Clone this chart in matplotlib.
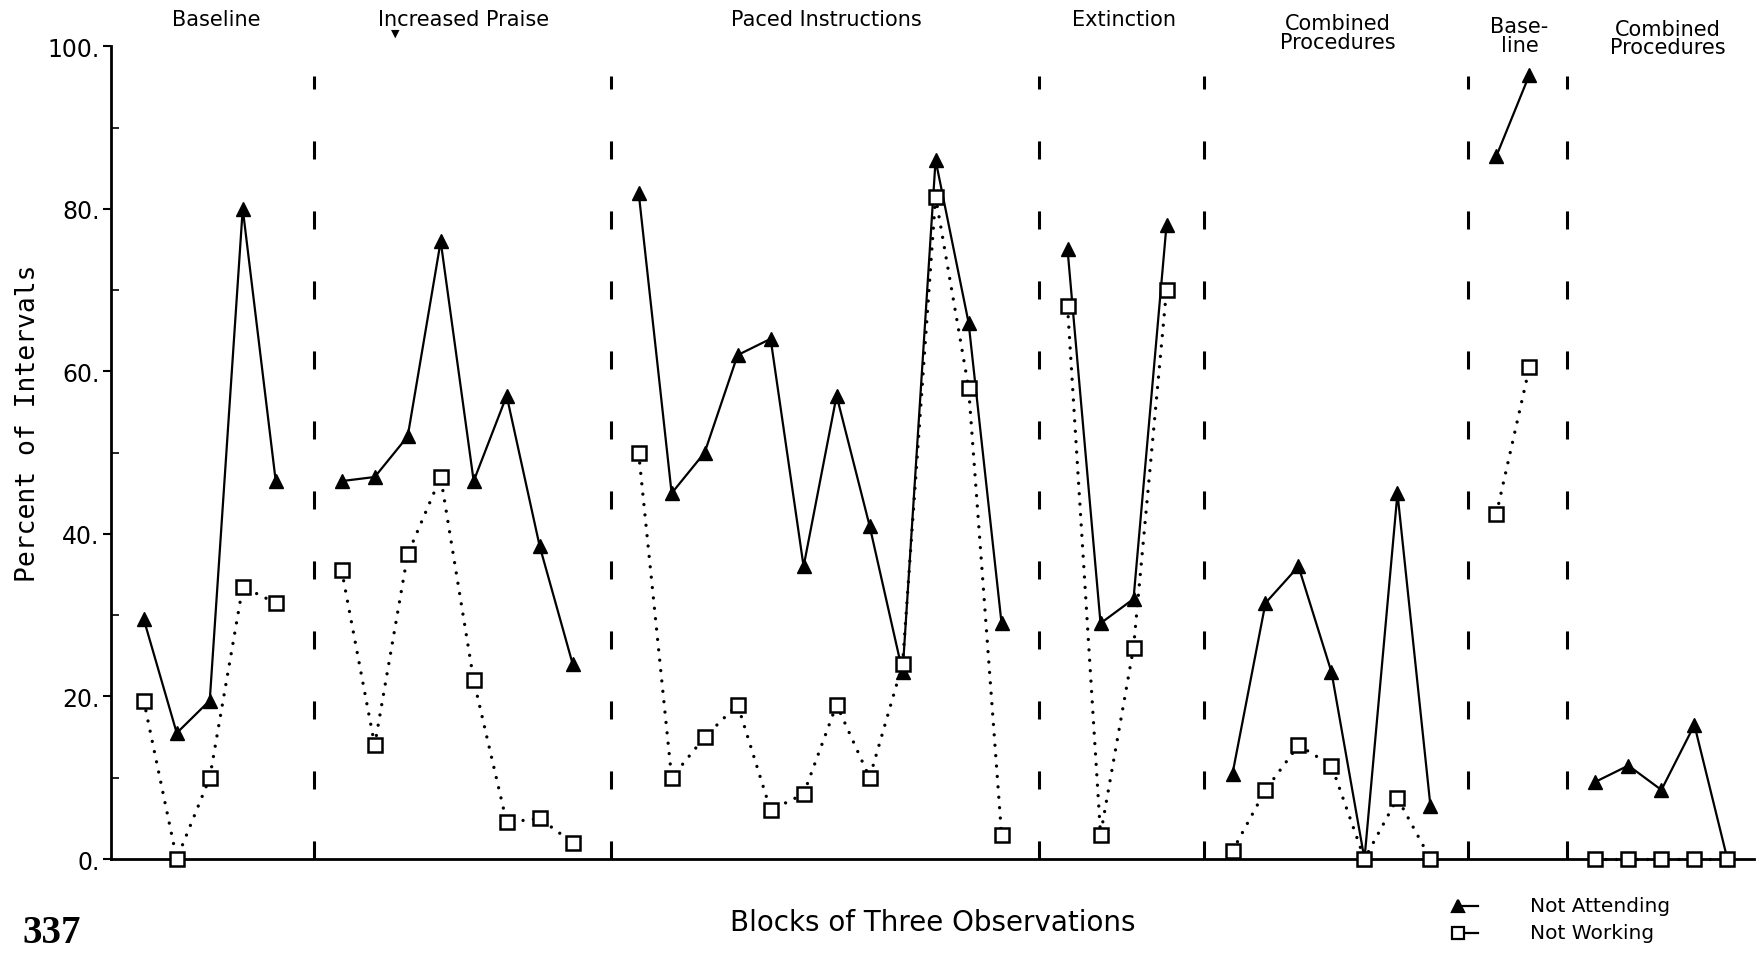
import numpy as np
import matplotlib.pyplot as plt
import matplotlib.transforms as mtransforms
from matplotlib.lines import Line2D

plt.rcParams['font.family'] = 'DejaVu Sans'
plt.rcParams['lines.scale_dashes'] = False

# Phase labels across the top
phases = ['Baseline', 'Increased Praise', 'Paced Instructions', 'Extinction',
          'Combined\nProcedures', 'Base-\nline', 'Combined\nProcedures']

# Percent of intervals, one list per phase
not_attending = [
    [29.5, 15.5, 19.5, 80, 46.5],
    [46.5, 47, 52, 76, 46.5, 57, 38.5, 24],
    [82, 45, 50, 62, 64, 36, 57, 41, 23, 86, 66, 29],
    [75, 29, 32, 78],
    [10.5, 31.5, 36, 23, 0, 45, 6.5],
    [86.5, 96.5],
    [9.5, 11.5, 8.5, 16.5, 0],
]
not_working = [
    [19.5, 0, 10, 33.5, 31.5],
    [35.5, 14, 37.5, 47, 22, 4.5, 5, 2],
    [50, 10, 15, 19, 6, 8, 19, 10, 24, 81.5, 58, 3],
    [68, 3, 26, 70],
    [1, 8.5, 14, 11.5, 0, 7.5, 0],
    [42.5, 60.5],
    [0, 0, 0, 0, 0],
]

yticks = [0, 20, 40, 60, 80, 100]
yticklabels = ['0.', '20.', '40.', '60.', '80.', '100.']

fig = plt.figure(figsize=(17.61, 9.54), dpi=100)
ax = fig.add_axes([0.0629, 0.0985, 0.933, 0.852])
ax.set_xlim(0, 49.8)
ax.set_ylim(0, 100)

# one empty block between phases holds the divider
start = 1
dividers = []
centers = []
for na, nw in zip(not_attending, not_working):
    xs = start + np.arange(len(na))
    ax.plot(xs, na, color='black', lw=1.6, marker='^', ms=10,
            mfc='black', mec='black', clip_on=False, zorder=3)
    ax.plot(xs, nw, color='black', lw=2.4, linestyle=(0, (0.01, 7.5)),
            dash_capstyle='round', marker='s', ms=10, mfc='white',
            mec='black', mew=1.8, clip_on=False, zorder=4)
    centers.append(xs.mean())
    dividers.append(start + len(na))
    start += len(na) + 1

for d in dividers[:-1]:
    ax.plot([d + 0.15, d + 0.15], [0, 96.3], color='black', lw=2.2,
            linestyle=(0, (13, 37.4)), solid_capstyle='butt', zorder=2)

# phase titles, x in data units, y in figure units
trans = mtransforms.blended_transform_factory(ax.transData, fig.transFigure)
title_y = [0.979, 0.979, 0.979, 0.979, 0.965, 0.962, 0.959]
for name, c, ty in zip(phases, centers, title_y):
    ax.text(c + 0.2, ty, name, transform=trans, ha='center', va='center',
            fontsize=15, linespacing=0.92)
fig.text(395 / 1761, 1 - 34 / 954, '\u25bc', fontsize=8, ha='center', va='center')

for side in ['top', 'right']:
    ax.spines[side].set_visible(False)
ax.spines['left'].set_linewidth(2)
ax.spines['bottom'].set_linewidth(2)

ax.set_yticks(yticks)
ax.set_yticklabels(yticklabels, fontsize=17)
ax.set_yticks([10, 30, 50, 70, 90], minor=True)
ax.tick_params(axis='y', which='major', direction='out', length=6, width=1.5, pad=2)
ax.tick_params(axis='y', which='minor', direction='in', length=6, width=1.2)
ax.set_xticks([])

fig.text(28 / 1761, 0.556, 'Percent of Intervals', rotation=90, ha='center',
         va='center', fontsize=19, family='DejaVu Sans Mono')
fig.text(933 / 1761, 1 - 923 / 954, 'Blocks of Three Observations',
         ha='center', va='center', fontsize=20)
fig.text(52 / 1761, 1 - 934 / 954, '337', ha='center', va='center',
         fontsize=28, family='Liberation Serif', weight='bold')

# legend drawn by hand: marker followed by a short stroke
leg_rows = [('^', 'black', 'Not Attending', 907), ('s', 'white', 'Not Working', 934)]
for mk, face, label, ypx in leg_rows:
    yf = 1 - ypx / 954
    fig.add_artist(Line2D([1458 / 1761, 1478 / 1761], [yf, yf], color='black', lw=1.6))
    fig.add_artist(Line2D([1458 / 1761], [yf], marker=mk, ms=9, mfc=face,
                          mec='black', mew=1.6, linestyle='none'))
    fig.text(1530 / 1761, yf, label, ha='left', va='center', fontsize=14.5)

fig.savefig('out.png', dpi=100, facecolor='white')
